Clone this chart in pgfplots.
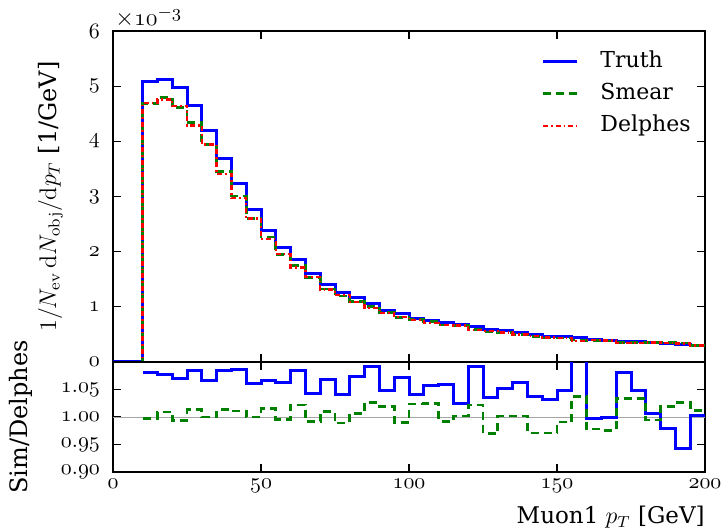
\documentclass[border=0pt]{standalone}
\usepackage[no-math]{fontspec}
\setmainfont{DejaVu Serif}
\usepackage{pgfplots}
\usepackage{pgfplotstable}
\pgfplotsset{compat=1.18}

\pgfplotstableread{
x T S D
0 0 0 0
10 5.08 4.690 4.699
15 5.12 4.799 4.756
20 4.97 4.615 4.643
25 4.65 4.344 4.288
30 4.20 3.939 3.939
35 3.69 3.447 3.403
40 3.23 3.008 2.976
45 2.76 2.603 2.603
50 2.38 2.264 2.231
55 2.08 1.949 1.957
60 1.855 1.747 1.710
65 1.612 1.533 1.545
70 1.40 1.324 1.311
75 1.26 1.197 1.210
80 1.164 1.093 1.085
85 1.067 1.003 0.977
90 0.927 0.902 0.885
95 0.873 0.806 0.814
100 0.788 0.775 0.757
105 0.752 0.729 0.712
110 0.715 0.670 0.675
115 0.679 0.664 0.663
120 0.636 0.596 0.583
125 0.582 0.545 0.562
130 0.564 0.537 0.536
135 0.533 0.502 0.501
140 0.491 0.460 0.474
145 0.461 0.434 0.447
150 0.461 0.436 0.440
155 0.442 0.398 0.384
160 0.400 0.392 0.401
165 0.388 0.379 0.388
170 0.376 0.360 0.348
175 0.364 0.358 0.347
180 0.352 0.348 0.350
185 0.339 0.353 0.346
190 0.315 0.343 0.334
195 0.297 0.300 0.296
200 0.297 0.300 0.296
}\maintab

\pgfplotstableread{
x rT rS
10 1.081 0.998
15 1.0765 1.009
20 1.0705 0.994
25 1.0843 1.013
30 1.0663 1.000
35 1.0843 1.013
40 1.0855 1.011
45 1.0602 1.000
50 1.0669 1.015
55 1.0627 0.996
60 1.085 1.022
65 1.0434 0.992
70 1.068 1.010
75 1.041 0.989
80 1.0729 1.007
85 1.0916 1.0265
90 1.0476 1.019
95 1.0723 0.990
100 1.0416 1.0235
105 1.0566 1.0247
110 1.0596 0.992
115 1.024 1.002
120 1.091 1.022
125 1.0355 0.970
130 1.052 1.002
135 1.063 1.002
140 1.0367 0.971
145 1.032 0.971
150 1.0488 0.991
155 1.15 1.037
160 0.997 0.978
165 0.999 0.976
170 1.0813 1.034
175 1.049 1.033
180 1.006 0.9946
185 0.9795 1.0187
190 0.942 1.0265
195 1.0024 1.0114
200 1.0024 1.0114
}\ratiotab

\definecolor{mblue}{RGB}{0,0,255}
\definecolor{mgreen}{RGB}{0,128,0}
\definecolor{mred}{RGB}{255,0,0}

\pgfplotsset{
  common/.style={
    scale only axis, width=296pt, xmin=0, xmax=200,
    xtick={0,50,100,150,200},
    axis line style={line width=0.8pt},
    tick style={black, line width=0.6pt},
    major tick length=4pt,
    yticklabel style={xshift=-3pt},
  },
  truth/.style={mblue, line width=1.5pt, const plot mark left},
  smear/.style={mgreen, line width=1.4pt, dash pattern=on 4pt off 2.5pt, const plot mark left},
  delph/.style={mred, line width=1.2pt, dash pattern=on 2.5pt off 1.5pt on 0.8pt off 1.5pt, const plot mark left},
}

\begin{document}
\begin{tikzpicture}[font=\fontsize{11}{13}\selectfont]
\path[use as bounding box] (0,0) rectangle (364pt,265pt);
\begin{axis}[common, name=main,
  height=165.5pt, at={(56.5pt,84pt)}, anchor=south west,
  ymin=0, ymax=6, ytick={0,1,2,3,4,5,6},
  xticklabels={},
  yticklabel={$\mathnormal{\pgfmathprintnumber{\tick}}$},
  ylabel={$1/N_{\mathrm{ev}}\,\mathrm{d}N_{\mathrm{obj}}/\mathrm{d}p_T$ [1/GeV]},
  ylabel style={at={(axis description cs:-0.106,0.5)}, anchor=center, font=\fontsize{12}{14}\selectfont},
  legend style={at={(0.723,0.94)}, anchor=north west, draw=none, fill=none,
    inner sep=0pt, row sep=5.5pt, column sep=11pt,
    nodes={inner sep=0pt, text height=8pt, text depth=2.5pt}},
  legend cell align=left,
  legend image code/.code={\draw[#1] (0pt,0pt) -- (17pt,0pt);},
]
\addplot[truth] table[x=x,y=T] {\maintab};
\addlegendentry{Truth}
\addplot[smear] table[x=x,y=S] {\maintab};
\addlegendentry{Smear}
\addplot[delph] table[x=x,y=D] {\maintab};
\addlegendentry{Delphes}
\end{axis}
\node[anchor=base west, inner sep=0pt, font=\fontsize{12.5}{14}\selectfont] at ([xshift=1pt,yshift=2.5pt]main.north west) {$\times\mathnormal{10}^{-\mathnormal{3}}$};
\begin{axis}[common,
  height=55pt, at={(56.5pt,29pt)}, anchor=south west,
  ymin=0.90, ymax=1.10, ytick={0.90,0.95,1.00,1.05},
  xticklabel={$\mathnormal{\pgfmathprintnumber{\tick}}$},
  yticklabel={$\mathnormal{\pgfmathprintnumber[fixed,fixed zerofill,precision=2]{\tick}}$},
  ylabel={Sim/Delphes},
  ylabel style={at={(axis description cs:-0.155,0.5)}, anchor=center, font=\fontsize{12}{14}\selectfont},
  xlabel={Muon1 $p_T$ [GeV]},
  xlabel style={at={(axis description cs:1,0)}, anchor=north east, inner sep=0pt, yshift=-17pt, font=\fontsize{11.5}{14}\selectfont},
]
\addplot[gray!70, line width=0.5pt] coordinates {(0,1) (200,1)};
\addplot[truth] table[x=x,y=rT] {\ratiotab};
\addplot[smear] table[x=x,y=rS] {\ratiotab};
\end{axis}
\end{tikzpicture}
\end{document}
